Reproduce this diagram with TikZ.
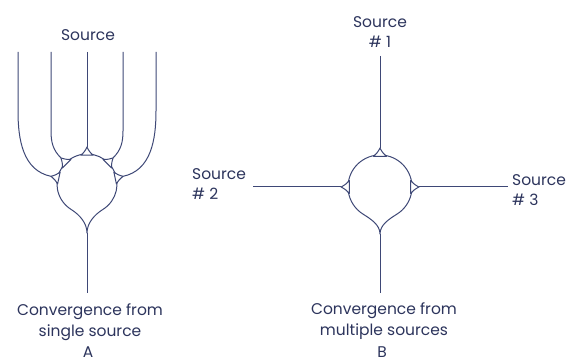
\documentclass[tikz,border=0pt]{standalone}
\usepackage{fontspec}
\setmainfont{Poppins}
\usetikzlibrary{calc}
\definecolor{ink}{RGB}{62,72,118}
\definecolor{txt}{RGB}{44,52,92}
\newcommand\bouton[3]{%
  \filldraw[neur,fill=white] ($(#1)+(#3:#2+7)$) to[bend left=12] ($(#1)+(#3+12:#2-0.6)$) -- ($(#1)+(#3-12:#2-0.6)$) to[bend left=12] cycle;}
\begin{document}
\begin{tikzpicture}[x=1pt,y=1pt,
  neur/.style={draw=ink,line width=1pt,line join=round},
  lbl/.style={text=txt,font=\fontsize{15.5}{20.5}\selectfont,inner sep=0pt,align=center}]
\useasboundingbox (0,0) rectangle (568,364);
% ---------- Panel A ----------
\coordinate (cA) at (87,180);
\coordinate (kA) at (87,131);
\coordinate (bA) at (87,71);
\foreach \n/\a in {1/168,2/135,3/90,4/45,5/12}{\coordinate (tA\n) at ($(cA)+(\a:37)$);}
\coordinate (sA1) at (18,312);
\coordinate (sA2) at (51,312);
\coordinate (sA3) at (87,312);
\coordinate (sA4) at (123,312);
\coordinate (sA5) at (156,312);
\draw[neur] ($(cA)+(-58:30)$) arc[start angle=-58,end angle=238,radius=30]
  to[out=328,in=90,looseness=0.9] (kA) to[out=90,in=212,looseness=0.9] ($(cA)+(-58:30)$);
\draw[neur] (kA) -- (bA);
\draw[neur] (sA1) -- (18,253) to[out=-90,in=168] (tA1);
\draw[neur] (sA2) -- (51,233) to[out=-90,in=135] (tA2);
\draw[neur] (sA3) -- (tA3);
\draw[neur] (sA4) -- (123,233) to[out=-90,in=45] (tA4);
\draw[neur] (sA5) -- (156,253) to[out=-90,in=12] (tA5);
\foreach \a in {168,135,90,45,12}{\bouton{cA}{30}{\a}}
\node[lbl] (srcA) at (88,329) {Source};
\node[lbl] (capA) at (90,42) {Convergence from\\single source};
\node[lbl] (A) at (88,12) {A};
% ---------- Panel B ----------
\coordinate (cB) at (380,177);
\coordinate (kB) at (380,130);
\coordinate (bB) at (380,71);
\coordinate (tB1) at ($(cB)+(90:39)$);
\coordinate (tB2) at ($(cB)+(180:39)$);
\coordinate (tB3) at ($(cB)+(0:39)$);
\coordinate (sB1) at (380,308);
\coordinate (sB2) at (253,177);
\coordinate (sB3) at (508,177);
\draw[neur] ($(cB)+(-58:32)$) arc[start angle=-58,end angle=238,radius=32]
  to[out=328,in=90,looseness=0.9] (kB) to[out=90,in=212,looseness=0.9] ($(cB)+(-58:32)$);
\draw[neur] (kB) -- (bB);
\draw[neur] (sB1) -- (tB1);
\draw[neur] (sB2) -- (tB2);
\draw[neur] (tB3) -- (sB3);
\foreach \a in {90,180,0}{\bouton{cB}{32}{\a}}
\node[lbl] (src1) at (380,332) {Source\\\# 1};
\node[lbl,align=left,anchor=west] (src2) at (192,180) {Source\\\# 2};
\node[lbl,align=left,anchor=west] (src3) at (512,174) {Source\\\# 3};
\node[lbl] (capB) at (384,43) {Convergence from\\multiple sources};
\node[lbl] (B) at (382,12) {B};
\end{tikzpicture}
\end{document}
